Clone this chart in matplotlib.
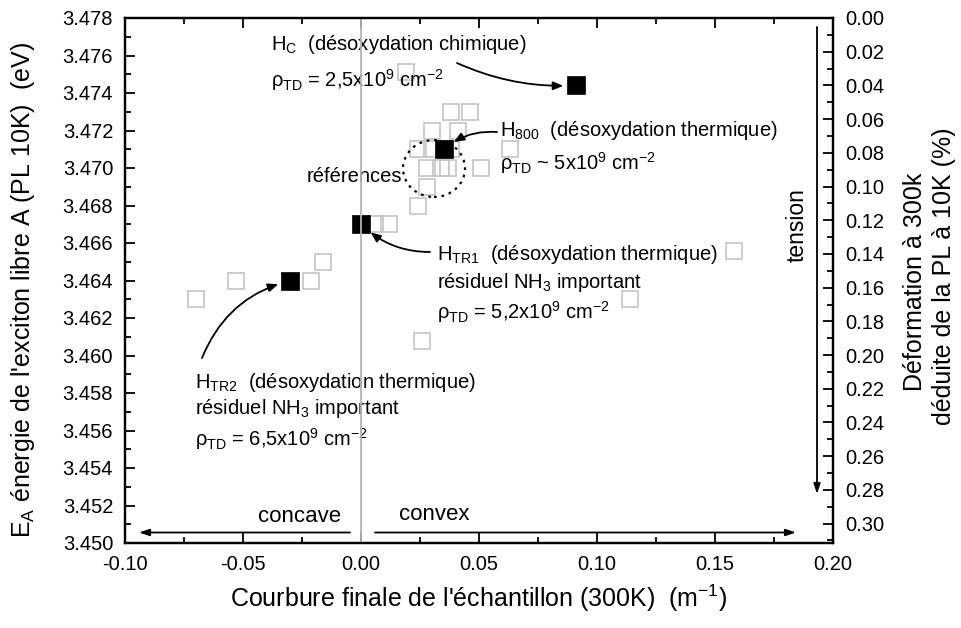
import matplotlib
matplotlib.use("Agg")
import matplotlib.pyplot as plt
from matplotlib.patches import Ellipse
from matplotlib.ticker import MultipleLocator, FormatStrFormatter

plt.rcParams["font.family"] = ["Liberation Sans", "DejaVu Sans"]
plt.rcParams["mathtext.fontset"] = "custom"
plt.rcParams["mathtext.rm"] = "Liberation Sans"
plt.rcParams["mathtext.it"] = "Liberation Sans:italic"
plt.rcParams["mathtext.bf"] = "Liberation Sans:bold"

# Reference samples (open squares): final curvature (m^-1) and exciton A energy (eV)
ref_curv = [-0.070, -0.053, -0.021, -0.016, 0.006, 0.012, 0.019, 0.038, 0.046,
            0.030, 0.041, 0.024, 0.030, 0.038, 0.063, 0.028, 0.034, 0.037,
            0.051, 0.028, 0.024, 0.026, 0.158, 0.114]
ref_energy = [3.4630, 3.4640, 3.4640, 3.4650, 3.4670, 3.4670, 3.4751, 3.4730, 3.4730,
              3.4720, 3.4720, 3.4710, 3.4710, 3.4710, 3.4710, 3.4700, 3.4700, 3.4700,
              3.4700, 3.4690, 3.4680, 3.4608, 3.4656, 3.4630]

# Deoxidised samples (filled squares)
sample_names = ["HC", "H800", "HTR1", "HTR2"]
sample_curv = [0.091, 0.035, 0.000, -0.030]
sample_energy = [3.4744, 3.4710, 3.4670, 3.4640]

x_ticks = [-0.10, -0.05, 0.00, 0.05, 0.10, 0.15, 0.20]
y_ticks = [3.450, 3.452, 3.454, 3.456, 3.458, 3.460, 3.462, 3.464, 3.466,
           3.468, 3.470, 3.472, 3.474, 3.476, 3.478]
strain_ticks = [0.00, 0.02, 0.04, 0.06, 0.08, 0.10, 0.12, 0.14, 0.16, 0.18,
                0.20, 0.22, 0.24, 0.26, 0.28, 0.30]

W, H = 961, 628
fig = plt.figure(figsize=(W / 100, H / 100), dpi=100)
L, R, T, B = 125, 833, 18, 543
ax = fig.add_axes([L / W, 1 - B / H, (R - L) / W, (B - T) / H])
ax.set_xlim(-0.10, 0.20)
ax.set_ylim(3.450, 3.478)


def px(x, y):
    """Pixel position in the figure -> data coordinates of the main axes."""
    return (-0.10 + (x - L) / (R - L) * 0.30,
            3.478 - (y - T) / (B - T) * 0.028)


TFS = 14.5      # annotation text
TICK_FS = 14.5  # tick labels
LAB_FS = 18     # axis titles

ax.plot(ref_curv, ref_energy, ls="none", marker="s", ms=11, mfc="none",
        mec="#c4c4c4", mew=1.2, zorder=3)
ax.plot(sample_curv, sample_energy, ls="none", marker="s", ms=13, mfc="black",
        mec="black", mew=0.5, zorder=4)
ax.axvline(0.0, color="#b4b4b4", lw=1.3, zorder=6)

# axes styling
for s in ax.spines.values():
    s.set_linewidth(1.6)
ax.set_xticks(x_ticks)
ax.set_yticks(y_ticks)
ax.xaxis.set_major_formatter(FormatStrFormatter("%.2f"))
ax.yaxis.set_major_formatter(FormatStrFormatter("%.3f"))
ax.xaxis.set_minor_locator(MultipleLocator(0.025))
ax.yaxis.set_minor_locator(MultipleLocator(0.001))
ax.tick_params(which="both", direction="in", top=True, right=False,
               labelsize=TICK_FS, width=1.3, pad=8.5)
ax.tick_params(which="major", length=7)
ax.tick_params(which="minor", length=4)

ax2 = ax.twinx()
ax2.set_ylim(0.3115, 0.0)
ax2.set_yticks(strain_ticks)
ax2.yaxis.set_major_formatter(FormatStrFormatter("%.2f"))
ax2.yaxis.set_minor_locator(MultipleLocator(0.01))
ax2.tick_params(which="both", direction="in", labelsize=TICK_FS, width=1.3, pad=8.5)
ax2.tick_params(which="major", length=7)
ax2.tick_params(which="minor", length=4)
for s in ax2.spines.values():
    s.set_linewidth(1.6)

# axis titles
fig.text(479 / W, 1 - 598 / H,
         "Courbure finale de l'échantillon (300K)  (m$^{-1}$)",
         ha="center", va="center", fontsize=LAB_FS)
fig.text(23 / W, 1 - 290 / H,
         "E$_\\mathrm{A}$ énergie de l'exciton libre A (PL 10K)  (eV)",
         ha="center", va="center", rotation=90, fontsize=LAB_FS)
fig.text(915 / W, 1 - 282 / H, "Déformation à 300k",
         ha="center", va="center", rotation=90, fontsize=LAB_FS)
fig.text(944 / W, 1 - 276 / H, "déduite de la PL à 10K (%)",
         ha="center", va="center", rotation=90, fontsize=LAB_FS)


# annotation texts
def label(xp, yp, s, **kw):
    ax.text(*px(xp, yp), s, ha="left", va="center", fontsize=TFS, zorder=5, **kw)


label(271, 45, "H$_\\mathrm{C}$  (désoxydation chimique)")
label(271, 80, "ρ$_\\mathrm{TD}$ = 2,5x10$^9$ cm$^{-2}$")
label(500, 131, "H$_\\mathrm{800}$  (désoxydation thermique)")
label(500, 163, "ρ$_\\mathrm{TD}$ ~ 5x10$^9$ cm$^{-2}$")
label(437, 255, "H$_\\mathrm{TR1}$  (désoxydation thermique)")
label(437, 283, "résiduel NH$_\\mathrm{3}$ important")
label(437, 312, "ρ$_\\mathrm{TD}$ = 5,2x10$^9$ cm$^{-2}$")
label(195, 382, "H$_\\mathrm{TR2}$  (désoxydation thermique)")
label(195, 409, "résiduel NH$_\\mathrm{3}$ important")
label(195, 439, "ρ$_\\mathrm{TD}$ = 6,5x10$^9$ cm$^{-2}$")
ax.text(*px(402, 177), "références", ha="right", va="center", fontsize=TFS, zorder=5)

ax.add_patch(Ellipse(px(434, 168.5), 62 / (R - L) * 0.30, 57 / (B - T) * 0.028,
                     fill=False, ls=(0, (1.2, 2.2)), lw=1.6, color="black", zorder=5))

# curved arrows pointing to the filled squares
arrow_kw = dict(arrowstyle="-|>,head_length=0.6,head_width=0.25", color="black",
                lw=1.3, shrinkA=0, shrinkB=9)
ax.annotate("", xy=(sample_curv[0], sample_energy[0]), xytext=px(457, 63),
            arrowprops=dict(connectionstyle="arc3,rad=0.12", **arrow_kw))
ax.annotate("", xy=(sample_curv[1], sample_energy[1]), xytext=px(497, 132),
            arrowprops=dict(connectionstyle="arc3,rad=0.2", **arrow_kw))
ax.annotate("", xy=(sample_curv[2], sample_energy[2]), xytext=px(430, 252),
            arrowprops=dict(connectionstyle="arc3,rad=-0.2", **arrow_kw))
ax.annotate("", xy=(sample_curv[3], sample_energy[3]), xytext=px(202, 358),
            arrowprops=dict(connectionstyle="arc3,rad=-0.25", **arrow_kw))

# concave / convex direction arrows
straight_kw = dict(arrowstyle="-|>,head_length=0.6,head_width=0.2", color="black",
                   lw=1.3, shrinkA=0, shrinkB=0)
ax.annotate("", xy=px(139, 532.5), xytext=px(350, 532.5), arrowprops=straight_kw)
ax.annotate("", xy=px(796, 532.5), xytext=px(375, 532.5), arrowprops=straight_kw)
ax.text(*px(300, 517), "concave", ha="center", va="center", fontsize=16)
ax.text(*px(434, 515), "convex", ha="center", va="center", fontsize=16)

# tension arrow
ax.annotate("", xy=px(817, 494), xytext=px(817, 27), arrowprops=straight_kw)
ax.text(*px(797, 225), "tension", ha="center", va="center", rotation=90, fontsize=16.5)

fig.savefig("out.png", dpi=100)
